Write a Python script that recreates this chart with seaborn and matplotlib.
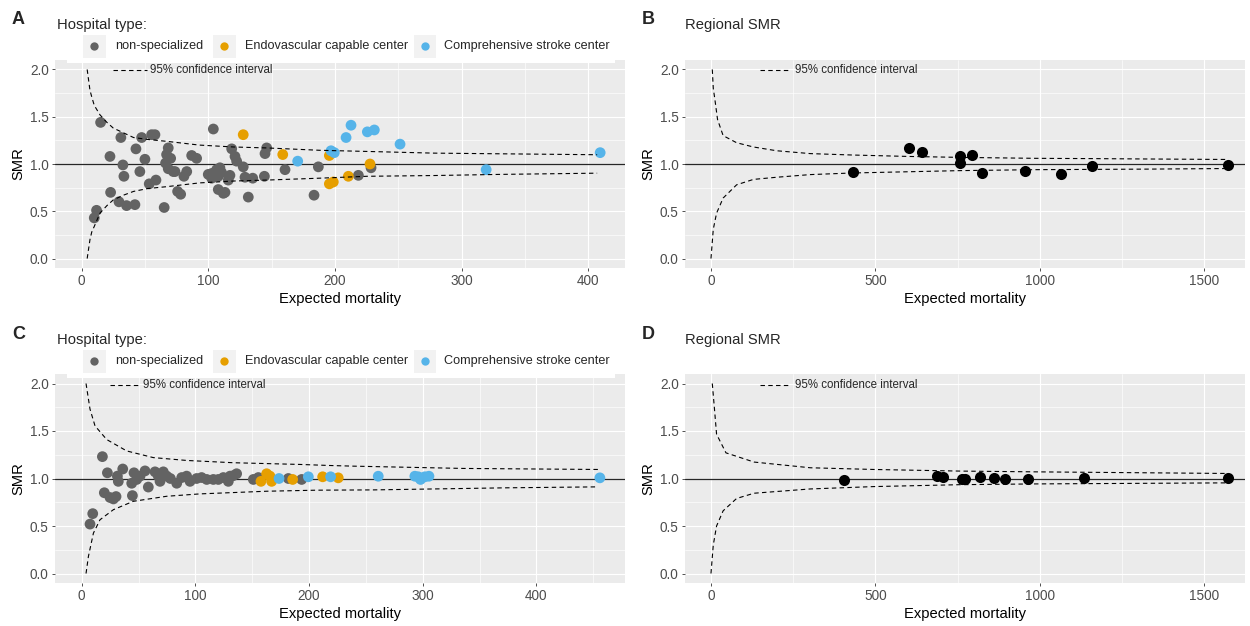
import matplotlib
matplotlib.use("Agg")
import matplotlib.pyplot as plt
from matplotlib.patches import Rectangle
from matplotlib.lines import Line2D
from matplotlib.ticker import MultipleLocator
import numpy as np
import pandas as pd
import seaborn as sns

W, H = 1250, 626

TYPE_NAMES = ["non-specialized", "Endovascular capable center", "Comprehensive stroke center"]
TYPE_COLORS = ["#636363", "#E69F00", "#56B4E9"]

# ---- panel A: hospitals (expected mortality, SMR) ----
a_gray_exp = [10.0, 11.8, 15.0, 22.4, 22.9, 29.5, 31.0, 32.6, 33.4, 35.5, 42.1, 42.9, 46.0, 47.4,
              50.0, 53.4, 55.3, 57.9, 58.7, 65.2, 66.3, 67.1, 68.4, 68.4, 70.3, 72.4, 73.7, 75.8,
              78.2, 80.8, 83.0, 86.9, 90.8, 100.0, 102.7, 102.7, 104.0, 105.3, 106.6, 107.9, 107.9,
              109.2, 110.5, 111.9, 113.2, 115.8, 117.1, 118.5, 121.1, 122.4, 127.6, 129.0, 131.6,
              135.1, 144.3, 144.8, 146.1, 160.6, 183.5, 186.9, 218.5, 228.5]
a_gray_smr = [0.43, 0.51, 1.44, 1.08, 0.70, 0.60, 1.28, 0.99, 0.87, 0.56, 0.57, 1.16, 0.92, 1.28,
              1.05, 0.79, 1.31, 1.31, 0.83, 0.54, 1.01, 1.10, 1.17, 0.95, 1.06, 0.92, 0.92, 0.71,
              0.68, 0.87, 0.92, 1.09, 1.06, 0.89, 0.85, 0.90, 1.37, 0.91, 0.94, 0.87, 0.73,
              0.96, 0.91, 0.69, 0.70, 0.83, 0.88, 1.16, 1.08, 1.03, 0.97, 0.86, 0.65,
              0.85, 0.87, 1.11, 1.17, 0.94, 0.67, 0.97, 0.88, 0.96]
a_orange_exp = [127.6, 158.8, 195.6, 195.6, 198.7, 210.6, 227.7]
a_orange_smr = [1.31, 1.10, 1.09, 0.79, 0.81, 0.87, 1.00]
a_blue_exp = [170.6, 196.9, 199.5, 208.8, 212.7, 225.6, 231.1, 251.4, 319.4, 409.4]
a_blue_smr = [1.03, 1.14, 1.12, 1.28, 1.41, 1.34, 1.36, 1.21, 0.94, 1.12]

a_ci_x = [4.4, 6.6, 8, 10, 14.5, 20, 25, 33, 41, 52, 67, 93, 120, 146, 188, 225, 278, 330, 407]
a_ci_up = [2.0, 1.78, 1.71, 1.62, 1.52, 1.44, 1.38, 1.33, 1.28, 1.26, 1.24, 1.20, 1.18, 1.17,
           1.145, 1.133, 1.115, 1.108, 1.098]
a_ci_lo = [0.0, 0.20, 0.28, 0.34, 0.48, 0.56, 0.62, 0.67, 0.71, 0.74, 0.76, 0.80, 0.82, 0.83,
           0.85, 0.87, 0.878, 0.89, 0.903]

# ---- panel B: regions ----
b_exp = [431, 601, 641, 758, 758, 793, 823, 956, 1064, 1158, 1571]
b_smr = [0.92, 1.17, 1.13, 1.08, 1.01, 1.09, 0.91, 0.93, 0.89, 0.98, 0.99]
b_ci_up_x = [4, 7, 12, 20, 37, 78, 129, 200, 302, 430, 600, 758, 987, 1160, 1329, 1568]
b_ci_up = [2.0, 1.80, 1.68, 1.47, 1.30, 1.225, 1.18, 1.14, 1.11, 1.095, 1.08, 1.07, 1.06,
           1.057, 1.053, 1.048]
b_ci_lo_x = [0, 7, 17, 37, 78, 129, 200, 302, 430, 600, 758, 987, 1160, 1329, 1568]
b_ci_lo = [0.0, 0.31, 0.48, 0.64, 0.78, 0.837, 0.86, 0.888, 0.905, 0.918, 0.93, 0.94, 0.943,
           0.946, 0.952]

# ---- panel C: hospitals ----
c_gray_exp = [7.3, 9.7, 18.2, 19.9, 22.6, 24.9, 27.9, 30.2, 31.4, 32.2, 36.1, 44.0, 44.6, 46.0,
              48.4, 51.3, 55.7, 58.6, 64.5, 67.4, 68.9, 71.8, 74.8, 78.0, 83.6, 88.0, 92.3, 95.3,
              101.1, 105.5, 110.0, 115.8, 120.2, 124.6, 129.0, 130.5, 133.4, 136.3, 151.0, 155.4,
              181.8, 193.5]
c_gray_smr = [0.52, 0.63, 1.23, 0.85, 1.06, 0.80, 0.785, 0.81, 1.025, 0.97, 1.10, 0.95, 0.82, 1.06,
              0.99, 1.025, 1.08, 0.91, 1.07, 1.025, 0.97, 1.07, 1.025, 1.0, 0.95, 1.01, 1.025, 0.97,
              1.0, 1.01, 0.99, 0.99, 0.99, 1.01, 0.97, 1.025, 1.03, 1.05, 0.99, 1.01,
              1.0, 0.99]
c_orange_exp = [157.7, 162.7, 165.6, 167.1, 185.6, 212.0, 225.7]
c_orange_smr = [0.97, 1.05, 1.025, 0.97, 0.99, 1.018, 1.007]
c_blue_exp = [173.6, 199.4, 219.0, 260.9, 293.1, 296.1, 298.1, 301.9, 305.5, 455.9]
c_blue_smr = [1.0, 1.018, 1.018, 1.024, 1.024, 1.018, 0.99, 1.018, 1.024, 1.007]

c_ci_up_x = [3.8, 7.3, 11.7, 22, 39.6, 63, 92.3, 133.4, 192, 218, 239, 335.6, 454.4]
c_ci_up = [2.0, 1.73, 1.554, 1.41, 1.29, 1.22, 1.19, 1.166, 1.148, 1.137, 1.13, 1.106, 1.095]
c_ci_lo_x = [3.8, 5.9, 10.3, 16.1, 27.9, 45.4, 74.8, 104, 162.7, 206.7, 256.5, 373.8, 454.4]
c_ci_lo = [0.0, 0.18, 0.425, 0.566, 0.672, 0.76, 0.813, 0.838, 0.866, 0.877, 0.88, 0.902, 0.912]

# ---- panel D: regions ----
d_exp = [405, 688, 707, 762, 773, 818, 861, 893, 964, 1135, 1571]
d_smr = [0.98, 1.025, 1.018, 0.99, 1.0, 1.018, 1.007, 0.99, 0.99, 1.007, 1.007]
d_ci_up_x = [4, 11.4, 17, 45.6, 131, 302, 496, 758, 987, 1329, 1568]
d_ci_up = [2.0, 1.70, 1.466, 1.27, 1.173, 1.113, 1.095, 1.078, 1.07, 1.06, 1.053]
d_ci_lo_x = [0, 7, 17, 37, 78, 131, 302, 496, 758, 987, 1568]
d_ci_lo = [0.0, 0.30, 0.50, 0.66, 0.79, 0.845, 0.89, 0.915, 0.935, 0.943, 0.954]


def fx(px):
    return px / W


def fy(py):
    return 1 - py / H


sns.set_theme(style="darkgrid", rc={
    "axes.facecolor": "#EBEBEB",
    "figure.facecolor": "white",
    "xtick.color": "#333333",
    "ytick.color": "#333333",
    "xtick.labelcolor": "#4D4D4D",
    "ytick.labelcolor": "#4D4D4D",
    "xtick.bottom": True,
    "ytick.left": True,
})
plt.rcParams["font.family"] = ["Liberation Sans", "DejaVu Sans"]

fig = plt.figure(figsize=(W / 100, H / 100), dpi=100)


def make_axes(left, right, top, bottom):
    return fig.add_axes([fx(left), fy(bottom), (right - left) / W, (bottom - top) / H])


def style_axes(ax, xlim, xmajor, xminor):
    ax.set_xlim(*xlim)
    ax.set_ylim(-0.1, 2.1)
    ax.xaxis.set_major_locator(MultipleLocator(xmajor))
    ax.xaxis.set_minor_locator(MultipleLocator(xminor))
    ax.yaxis.set_major_locator(MultipleLocator(0.5))
    ax.yaxis.set_minor_locator(MultipleLocator(0.25))
    ax.yaxis.set_major_formatter(matplotlib.ticker.FormatStrFormatter("%.1f"))
    ax.grid(which="major", color="white", linewidth=0.85)
    ax.grid(which="minor", color="white", linewidth=0.45)
    for s in ax.spines.values():
        s.set_visible(False)
    ax.tick_params(which="major", length=2.5, width=0.6, pad=2, labelsize=9.8)
    ax.tick_params(which="minor", length=0)
    ax.axhline(1.0, color="#262626", linewidth=0.9, zorder=2)


def draw_ci(ax, up_x, up, lo_x, lo):
    for xs, ys in [(up_x, up), (lo_x, lo)]:
        sns.lineplot(x=xs, y=ys, estimator=None, sort=False, color="black",
                     linewidth=0.8, linestyle=(0, (4, 3)), ax=ax, zorder=4)


def hospital_frame(g_x, g_y, o_x, o_y, b_x, b_y):
    return pd.DataFrame({
        "expected": list(g_x) + list(o_x) + list(b_x),
        "smr": list(g_y) + list(o_y) + list(b_y),
        "type": [TYPE_NAMES[0]] * len(g_x) + [TYPE_NAMES[1]] * len(o_x) + [TYPE_NAMES[2]] * len(b_x),
    })


def ci_key(x0, x1, xt, y):
    fig.add_artist(Line2D([fx(x0), fx(x1)], [fy(y), fy(y)], transform=fig.transFigure,
                          color="black", linewidth=0.8, linestyle=(0, (4, 3)), zorder=3))
    fig.text(fx(xt), fy(y), "95% confidence interval", fontsize=8.3, va="center", ha="left",
             zorder=3)


def hospital_legend(ytitle, yrow):
    fig.add_artist(Rectangle((fx(67), fy(yrow + 17)), fx(615) - fx(67), fy(yrow - 40) - fy(yrow + 17),
                             transform=fig.transFigure, facecolor="white", edgecolor="none", zorder=1))
    fig.text(fx(57), fy(ytitle), "Hospital type:", fontsize=10.6, va="center", ha="left", zorder=3)
    keys = [(94, 115), (224, 245), (425, 444)]
    for (kx, tx), name, col in zip(keys, TYPE_NAMES, TYPE_COLORS):
        fig.add_artist(Rectangle((fx(kx - 11.5), fy(yrow + 11.5)), 23 / W, 23 / H,
                                 transform=fig.transFigure, facecolor="#F2F2F2",
                                 edgecolor="none", zorder=2))
        fig.add_artist(Line2D([fx(kx)], [fy(yrow)], transform=fig.transFigure, marker="o",
                              markersize=6, color=col, markeredgewidth=0, linestyle="none",
                              zorder=3))
        fig.text(fx(tx), fy(yrow), name, fontsize=9.1, va="center", ha="left", zorder=3)


def label_axes(ax):
    ax.set_xlabel("Expected mortality", fontsize=10.6, labelpad=3, color="black")
    ax.set_ylabel("SMR", fontsize=10.6, labelpad=3, color="black")


def hospital_panel(ax, df, ci, xlim):
    style_axes(ax, xlim, 100, 50)
    sns.scatterplot(data=df, x="expected", y="smr", hue="type", hue_order=TYPE_NAMES,
                    palette=TYPE_COLORS, s=60, linewidth=0, legend=False, ax=ax, zorder=3)
    draw_ci(ax, *ci)
    label_axes(ax)


def region_panel(ax, xs, ys, ci, xlim):
    style_axes(ax, xlim, 500, 250)
    sns.scatterplot(x=xs, y=ys, color="black", s=64, linewidth=0, ax=ax, zorder=3)
    draw_ci(ax, *ci)
    label_axes(ax)


ax_a = make_axes(55, 625, 60, 268)
ax_b = make_axes(685, 1245, 60, 268)
ax_c = make_axes(55, 625, 374, 583)
ax_d = make_axes(685, 1245, 374, 583)

df_a = hospital_frame(a_gray_exp, a_gray_smr, a_orange_exp, a_orange_smr, a_blue_exp, a_blue_smr)
df_c = hospital_frame(c_gray_exp, c_gray_smr, c_orange_exp, c_orange_smr, c_blue_exp, c_blue_smr)

hospital_panel(ax_a, df_a, (a_ci_x, a_ci_up, a_ci_x, a_ci_lo), (-21, 429))
region_panel(ax_b, b_exp, b_smr, (b_ci_up_x, b_ci_up, b_ci_lo_x, b_ci_lo), (-79, 1624))
hospital_panel(ax_c, df_c, (c_ci_up_x, c_ci_up, c_ci_lo_x, c_ci_lo), (-23.5, 478))
region_panel(ax_d, d_exp, d_smr, (d_ci_up_x, d_ci_up, d_ci_lo_x, d_ci_lo), (-79, 1624))

# panel letters and headings
for letter, x, y in [("A", 12, 19), ("B", 642, 19), ("C", 12, 334), ("D", 642, 334)]:
    fig.text(fx(x), fy(y), letter, fontsize=13, fontweight="bold", va="center", ha="left")
fig.text(fx(685), fy(25), "Regional SMR", fontsize=10.6, va="center", ha="left")
fig.text(fx(685), fy(340), "Regional SMR", fontsize=10.6, va="center", ha="left")

hospital_legend(25, 46)
hospital_legend(340, 361)

ci_key(113, 147, 150, 70)
ci_key(760, 790, 795, 70)
ci_key(110, 139, 143, 385)
ci_key(760, 790, 795, 385)

fig.savefig("out.png", dpi=100)
